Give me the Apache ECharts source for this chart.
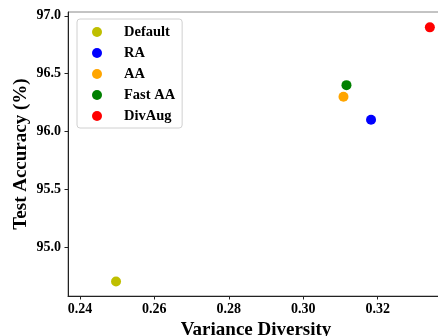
<!DOCTYPE html>
<html>
<head>
<meta charset="utf-8">
<script src="https://cdn.jsdelivr.net/npm/echarts@6/dist/echarts.min.js"></script>
<style>
html,body{margin:0;padding:0;background:#fff;}
#chart{width:438px;height:336px;}
</style>
</head>
<body>
<div id="chart"></div>
<script>
var methods = ['Default', 'RA', 'AA', 'Fast AA', 'DivAug'];
var diversity = [0.2497, 0.3182, 0.3108, 0.3116, 0.3340];
var accuracy = [94.70, 96.10, 96.30, 96.40, 96.90];
var xTicks = [0.24, 0.26, 0.28, 0.30, 0.32];
var yTicks = [95.0, 95.5, 96.0, 96.5, 97.0];
var palette = ['#bfbf00', '#0000ff', '#ffa500', '#008000', '#ff0000'];

var FONT = '"Liberation Serif", "Times New Roman", serif';
var chart = echarts.init(document.getElementById('chart'), null, {renderer: 'canvas'});

var series = methods.map(function (m, i) {
  return {
    name: m,
    type: 'scatter',
    symbol: 'circle',
    symbolSize: 10,
    itemStyle: {color: palette[i], opacity: 1},
    emphasis: {disabled: true},
    data: [[diversity[i], accuracy[i]]]
  };
});

chart.setOption({
  animation: false,
  color: palette,
  grid: {
    left: 68, top: 12, width: 376, height: 284,
    outerBoundsMode: 'none',
    containLabel: false,
    show: true, borderColor: '#888', borderWidth: 1, backgroundColor: 'transparent'
  },
  legend: {
    orient: 'vertical',
    left: 77, top: 19,
    data: methods,
    icon: 'circle',
    itemWidth: 10, itemHeight: 10,
    itemGap: 5,
    padding: [5, 7, 4, 15],
    borderColor: '#d0d0d0', borderWidth: 1, borderRadius: 3,
    backgroundColor: 'rgba(255,255,255,0.8)',
    selectedMode: false,
    textStyle: {
      fontFamily: FONT, fontWeight: 'bold', fontSize: 14.5, color: '#000',
      lineHeight: 16, padding: [0, 0, 0, 17]
    }
  },
  xAxis: {
    type: 'value',
    min: 0.2368, max: 0.3378,
    name: 'Variance Diversity',
    nameLocation: 'middle',
    nameGap: 25,
    nameMoveOverlap: false,
    nameTextStyle: {fontFamily: FONT, fontWeight: 'bold', fontSize: 19, color: '#000'},
    axisLine: {show: true, lineStyle: {color: '#222', width: 1}},
    axisTick: {show: true, length: 3.5, inside: false, customValues: xTicks, lineStyle: {color: '#222'}},
    axisLabel: {
      customValues: xTicks, margin: 6,
      fontFamily: FONT, fontWeight: 'bold', fontSize: 14, color: '#000',
      formatter: function (v) { return v.toFixed(2); }
    },
    splitLine: {show: false}
  },
  yAxis: {
    type: 'value',
    min: 94.575, max: 97.033,
    name: 'Test Accuracy (%)',
    nameLocation: 'middle',
    nameGap: 37,
    nameMoveOverlap: false,
    nameTextStyle: {fontFamily: FONT, fontWeight: 'bold', fontSize: 19, color: '#000'},
    axisLine: {show: true, lineStyle: {color: '#222', width: 1}},
    axisTick: {show: true, length: 3.5, inside: false, customValues: yTicks, lineStyle: {color: '#222'}},
    axisLabel: {
      customValues: yTicks, margin: 7,
      fontFamily: FONT, fontWeight: 'bold', fontSize: 14, color: '#000',
      formatter: function (v) { return v.toFixed(1); }
    },
    splitLine: {show: false}
  },
  series: series
});
</script>
</body>
</html>
